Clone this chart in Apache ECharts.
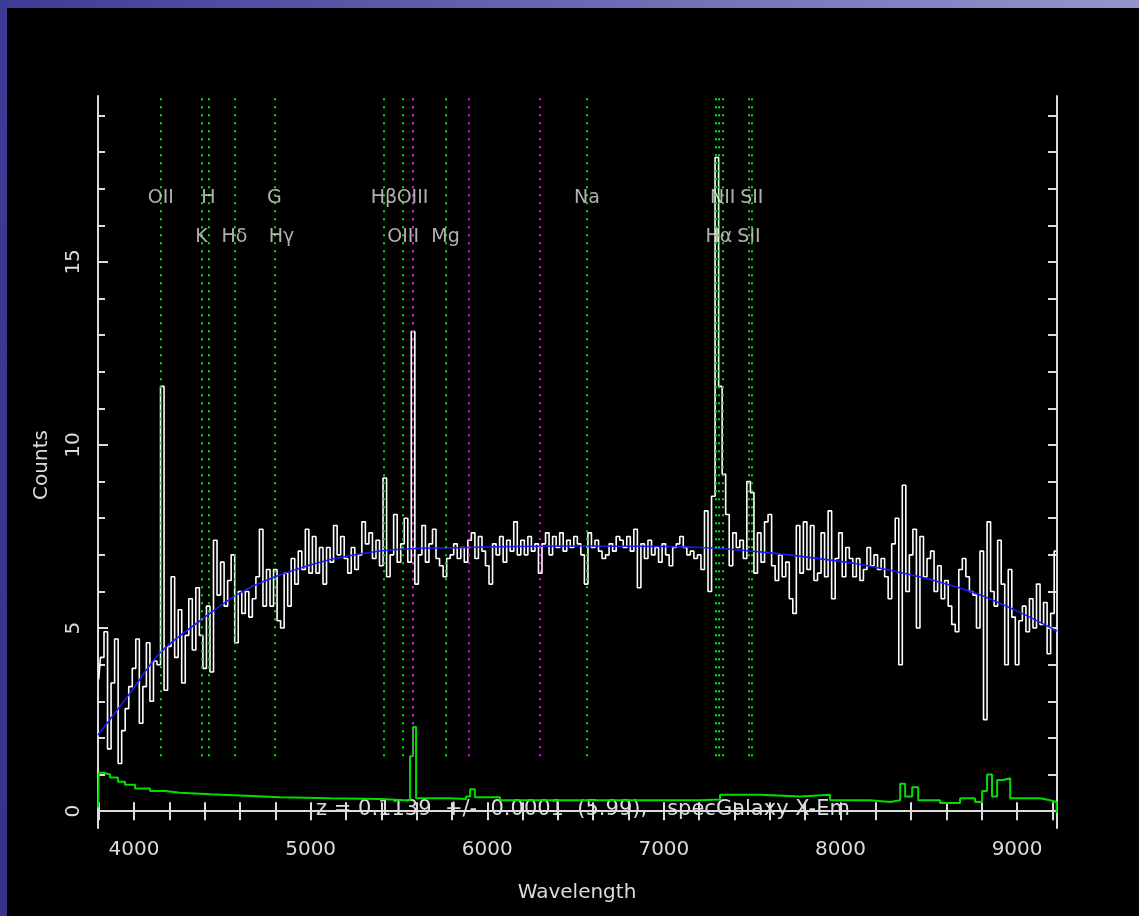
<!DOCTYPE html>
<html><head><meta charset="utf-8">
<script src="https://cdn.jsdelivr.net/npm/echarts@6/dist/echarts.min.js"></script>
<style>html,body{margin:0;padding:0;background:#000;overflow:hidden}#c{width:1139px;height:916px}</style>
</head><body><div id="c"></div>
<script>
// ---- data ----
const waveStart = 3800, waveStep = 20;
const flux = [
 3.6,4.2,4.9,1.7,3.5,4.7,1.3,2.2,2.8,3.4,
 3.9,4.7,2.4,3.4,4.6,3.0,4.1,4.0,11.6,3.3,
 4.5,6.4,4.2,5.5,3.5,4.8,5.8,4.4,6.1,4.8,
 3.9,5.6,3.8,7.4,5.9,6.8,5.6,6.3,7.0,4.6,
 6.0,5.4,6.0,5.3,5.8,6.4,7.7,5.6,6.6,5.6,
 6.6,5.2,5.0,6.5,5.6,6.9,6.2,7.1,6.6,7.7,
 6.5,7.5,6.5,7.2,6.2,7.2,6.8,7.8,7.0,7.5,
 6.9,6.5,7.2,6.6,7.0,7.9,7.3,7.6,6.9,7.4,
 6.7,9.1,6.4,7.0,8.1,6.8,7.3,8.0,6.8,13.1,
 6.2,7.0,7.8,6.8,7.3,7.7,6.9,6.7,6.4,6.9,
 7.0,7.3,6.9,7.2,6.8,7.4,7.6,6.9,7.5,7.1,
 6.7,6.2,7.3,7.0,7.5,6.8,7.4,7.1,7.9,7.0,
 7.4,7.0,7.5,7.1,7.3,6.5,7.3,7.6,7.0,7.5,
 7.2,7.6,7.1,7.4,7.2,7.5,7.3,7.0,6.2,7.6,
 7.2,7.4,7.1,6.9,7.0,7.3,7.1,7.5,7.4,7.2,
 7.5,7.1,7.7,6.1,7.3,6.9,7.4,7.0,7.2,6.8,
 7.3,7.0,6.7,7.2,7.3,7.5,7.2,7.0,7.1,6.9,
 7.0,6.6,8.2,6.0,8.6,17.85,11.6,9.2,8.1,6.7,
 7.6,7.2,7.4,6.9,9.0,8.7,6.5,7.6,6.8,7.9,
 8.1,6.7,6.3,7.0,6.4,6.8,5.8,5.4,7.8,6.5,
 7.9,6.6,7.8,6.3,6.5,7.6,6.4,8.2,5.8,6.9,
 7.6,6.4,7.2,6.9,6.4,6.9,6.3,6.6,7.2,6.7,
 7.0,6.6,6.9,6.4,5.8,7.3,8.0,4.0,8.9,6.0,
 7.0,7.7,5.0,7.5,6.4,6.9,7.1,6.0,6.7,5.8,
 6.3,5.6,5.1,4.9,6.6,6.9,6.4,6.0,5.9,5.0,
 7.1,2.5,7.9,6.0,5.6,7.4,6.2,4.0,6.6,5.3,
 4.0,5.2,5.6,4.9,5.8,5.0,6.2,5.1,5.7,4.3,
 5.4,7.1
];
const contWave = [3796,3977,4147,4374,4600,4798,4997,5138,5450,5891,6525,7205,7545,7856,8100,8326,8519,8762,8989,9226];
const contFlux = [2.08,3.22,4.32,5.20,5.96,6.40,6.72,6.90,7.13,7.20,7.24,7.20,7.08,6.91,6.75,6.53,6.31,5.96,5.49,4.92];
const errWave = [3797,3800,3828,3864,3909,3949,4006,4091,4176,4260,4430,4600,4827,5110,5393,5535,5563,5580,5597,5790,5880,5903,5930,6072,6638,7205,7318,7545,7772,7941,8168,8282,8338,8366,8406,8440,8564,8677,8762,8802,8830,8858,8887,8921,8961,9130,9187,9224];
const errFlux = [0.10,1.05,1.00,0.92,0.80,0.72,0.62,0.55,0.50,0.46,0.43,0.38,0.35,0.33,0.30,0.30,1.50,2.30,0.35,0.33,0.40,0.60,0.38,0.30,0.30,0.32,0.45,0.40,0.45,0.30,0.25,0.30,0.75,0.40,0.65,0.30,0.22,0.35,0.25,0.55,1.00,0.40,0.85,0.90,0.35,0.30,0.25,-0.05];
const lineNames = ['OII','K','H','H\u03b4','G','H\u03b3','H\u03b2','OIII','OIII','Mg','Na','NII','H\u03b1','NII','SII','SII'];
const lineWaves = [4152,4382,4421,4569,4794,4835,5415,5524,5577,5764,6565,7294,7311,7333,7482,7498];
const lineRows  = [0,1,0,1,0,1,0,1,0,1,0,-1,1,0,1,0];
const lineDrawn = [1,1,1,1,1,0,1,1,1,1,1,1,1,1,1,1];
const skyWaves = [5577,5893,6300];
const xLabelValues = [4000,5000,6000,7000,8000,9000];
const xTickValues = [3800,4000,4200,4400,4600,4800,5000,5200,5400,5600,5800,6000,6200,6400,6600,6800,7000,7200,7400,7600,7800,8000,8200,8400,8600,8800,9000,9200];
const yLabelValues = [0,5,10,15];
const yMinorValues = [0,1,2,3,4,5,6,7,8,9,10,11,12,13,14,15,16,17,18,19];
const annotation = 'z = 0.1139  +/-  0.0001  (5.99),   specGalaxy X-Em';

// ---- layout / style ----
const X_MIN = 3796, X_MAX = 9226, Y_MIN = -0.46, Y_MAX = 19.53;
const LINE_BOTTOM = 1.5;
const labelRowFlux = [16.75, 15.68];
const FG = '#dcdcdc';
const FONT = 'DejaVu Sans';

const specData = flux.map((f, i) => [waveStart + i * waveStep, f]);
const contData = contWave.map((w, i) => [w, contFlux[i]]);
const errData = errWave.map((w, i) => [w, errFlux[i]]);
const greenLines = lineWaves.filter((w, i) => lineDrawn[i]).map(w => [{coord: [w, LINE_BOTTOM]}, {coord: [w, Y_MAX]}]);
const skyLines = skyWaves.map(w => [{coord: [w, LINE_BOTTOM]}, {coord: [w, Y_MAX]}]);
const labelData = lineNames.map((n, i) => lineRows[i] >= 0 ? [lineWaves[i], labelRowFlux[lineRows[i]], n] : null).filter(Boolean);

const axisLineStyle = {show: true, lineStyle: {color: FG, width: 2}};
const chart = echarts.init(document.getElementById('c'), null, {renderer: 'canvas'});
chart.setOption({
  backgroundColor: '#000',
  animation: false,
  grid: {left: 98, right: 82, top: 96, bottom: 88, outerBoundsMode: 'none', containLabel: false},
  xAxis: [
    {type: 'value', position: 'bottom', min: X_MIN, max: X_MAX,
     axisLine: axisLineStyle,
     axisTick: {show: true, inside: true, length: 9, lineStyle: {color: FG, width: 2}, customValues: xTickValues},
     axisLabel: {show: true, customValues: xLabelValues, formatter: v => String(v), color: FG, fontFamily: FONT, fontSize: 20, margin: 12},
     splitLine: {show: false}},
    {type: 'value', position: 'top', min: X_MIN, max: X_MAX,
     axisLine: axisLineStyle,
     axisTick: {show: true, inside: true, length: 9, lineStyle: {color: FG, width: 2}, customValues: xTickValues},
     axisLabel: {show: false}, splitLine: {show: false}}
  ],
  yAxis: [
    {type: 'value', position: 'left', min: Y_MIN, max: Y_MAX,
     axisLine: axisLineStyle,
     axisTick: {show: true, inside: true, length: 10, lineStyle: {color: FG, width: 2}, customValues: yLabelValues},
     axisLabel: {show: true, customValues: yLabelValues, formatter: v => String(v), rotate: 90, color: FG, fontFamily: FONT, fontSize: 20, margin: 14},
     splitLine: {show: false}},
    {type: 'value', position: 'left', min: Y_MIN, max: Y_MAX,
     axisLine: {show: false},
     axisTick: {show: true, inside: true, length: 7, lineStyle: {color: FG, width: 2}, customValues: yMinorValues},
     axisLabel: {show: false}, splitLine: {show: false}},
    {type: 'value', position: 'right', min: Y_MIN, max: Y_MAX,
     axisLine: axisLineStyle,
     axisTick: {show: true, inside: true, length: 9, lineStyle: {color: FG, width: 2}, customValues: yMinorValues},
     axisLabel: {show: false}, splitLine: {show: false}}
  ],
  series: [
    {type: 'line', name: 'lines', data: [], silent: true, z: 1,
     markLine: {silent: true, symbol: ['none', 'none'], label: {show: false},
       lineStyle: {color: '#00e600', width: 2, type: [2, 6]}, data: greenLines}},
    {type: 'line', name: 'sky', data: [], silent: true, z: 1,
     markLine: {silent: true, symbol: ['none', 'none'], label: {show: false},
       lineStyle: {color: '#ff00ff', width: 2, type: [2, 6]}, data: skyLines}},
    {type: 'line', name: 'spectrum', data: specData, step: 'middle', showSymbol: false, z: 3,
     lineStyle: {color: '#ffffff', width: 1.6}},
    {type: 'line', name: 'error', data: errData, step: 'end', showSymbol: false, z: 3,
     lineStyle: {color: '#00dd00', width: 2}},
    {type: 'line', name: 'continuum', data: contData, smooth: 0.35, showSymbol: false, z: 4,
     lineStyle: {color: '#1a1aff', width: 1.6}},
    {type: 'scatter', name: 'labels', data: labelData, symbolSize: 1, z: 5,
     itemStyle: {color: 'rgba(0,0,0,0)'},
     label: {show: true, position: 'inside', formatter: p => p.data[2], color: FG, fontFamily: FONT, fontSize: 19}}
  ],
  graphic: [
    {type: 'rect', shape: {x: 0, y: 0, width: 1139, height: 8}, silent: true,
     style: {fill: new echarts.graphic.LinearGradient(0, 0, 1, 0, [{offset: 0, color: '#3c3c98'}, {offset: 1, color: '#9494cc'}])}},
    {type: 'rect', shape: {x: 0, y: 0, width: 7, height: 916}, silent: true,
     style: {fill: new echarts.graphic.LinearGradient(0, 0, 0, 1, [{offset: 0, color: '#3c3c98'}, {offset: 1, color: '#34348c'}])}},
    {type: 'text', x: 583, y: 810, silent: true,
     style: {text: annotation, fill: FG, font: '21px "DejaVu Sans"', textAlign: 'center', textVerticalAlign: 'middle', align: 'center', verticalAlign: 'middle'}},
    {type: 'text', x: 577, y: 893, silent: true,
     style: {text: 'Wavelength', fill: FG, font: '20px "DejaVu Sans"', textAlign: 'center', textVerticalAlign: 'middle', align: 'center', verticalAlign: 'middle'}},
    {type: 'text', x: 42, y: 465, rotation: Math.PI / 2, silent: true,
     style: {text: 'Counts', fill: FG, font: '20px "DejaVu Sans"', textAlign: 'center', textVerticalAlign: 'middle', align: 'center', verticalAlign: 'middle'}}
  ]
});
</script>
</body></html>
